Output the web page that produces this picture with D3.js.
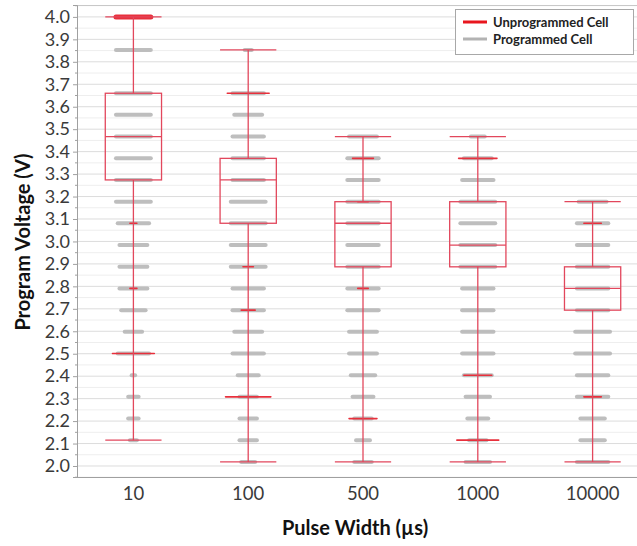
<!DOCTYPE html>
<html><head><meta charset="utf-8">
<script src="https://cdn.jsdelivr.net/npm/d3@7"></script>
<style>body{margin:0;background:#fff}svg{display:block}</style>
</head><body>
<svg id="c" width="637" height="546"></svg>
<script>
const categories = ["10","100","500","1000","10000"];
const levels = [2.018,2.115,2.211,2.308,2.404,2.501,2.598,2.694,2.791,2.887,2.984,3.081,3.177,3.274,3.370,3.467,3.564,3.660,3.757,3.853,4.000];
const whiskerLow  = [2.115,2.018,2.018,2.018,2.018];
const q1          = [3.274,3.081,2.887,2.887,2.694];
const median      = [3.467,3.274,3.081,2.984,2.791];
const q3          = [3.660,3.370,3.177,3.177,2.887];
const whiskerHigh = [4.000,3.853,3.467,3.467,3.177];
// relative spread (0-10) of jittered points at each level, per category
const grayDensity = [
  [0,2,3,3,1,9,5,7,8,8,8,9,10,10,10,10,10,10,0,10,0],
  [4,5,5,5,6,9,8,9,9,10,10,10,10,9,9,9,8,9,0,2,0],
  [5,4,5,6,7,8,8,9,9,9,9,9,9,9,9,8,0,0,0,0,0],
  [7,5,6,7,8,9,9,9,9,10,10,10,10,9,8,4,0,0,0,0,0],
  [9,7,7,9,9,10,10,9,9,9,9,9,8,0,0,0,0,0,0,0,0]
];
const redDensity = [
  [0,0,0,0,0,12,0,0,2,0,0,2,0,0,0,0,0,0,0,0,10],
  [0,0,0,13,0,0,0,4,0,3,0,0,0,0,0,0,0,12,0,0,0],
  [0,0,8,0,0,0,0,0,3,0,0,0,3,0,6,0,0,0,0,0,0],
  [0,12,0,0,8,0,0,0,0,0,0,0,0,0,11,0,0,0,0,0,0],
  [0,0,0,5,0,0,0,0,0,0,0,5,0,0,0,0,0,0,0,0,0]
];
const yTicks = d3.range(20,41).map(v=>v/10);
const legendItems = [{label:"Unprogrammed Cell", color:"#e8161e"},{label:"Programmed Cell", color:"#b3b3b3"}];

const svg = d3.select("#c");
const font = "Lato, 'Open Sans', sans-serif";
const L=77, R=637, T=5, B=477;
const x = d3.scaleBand().domain(categories).range([76,650]).padding(0);
const y = d3.scaleLinear().domain([1.951,4.053]).range([B,T]);
const boxW = x.bandwidth()*0.49;
const spread = d3.scaleLinear().domain([0,10]).range([0,boxW*0.31]);

// grid
const minor = d3.range(195,406,5).map(v=>v/100).filter(v=>Math.round(v*100)%10!==0);
svg.append("g").selectAll("line").data(minor).join("line")
  .attr("x1",L).attr("x2",R).attr("y1",d=>y(d)).attr("y2",d=>y(d))
  .attr("stroke","#eeeeee").attr("stroke-width",1);
svg.append("g").selectAll("line").data(yTicks).join("line")
  .attr("x1",L).attr("x2",R).attr("y1",d=>y(d)).attr("y2",d=>y(d))
  .attr("stroke","#dcdcdc").attr("stroke-width",1);
svg.append("line").attr("x1",L).attr("x2",R).attr("y1",T+0.5).attr("y2",T+0.5).attr("stroke","#c8c8c8");

// points (gray then red)
const ptsG=[], ptsR=[];
categories.forEach((c,i)=>levels.forEach((lv,j)=>{
  if(grayDensity[i][j]>0) ptsG.push({c,lv,d:grayDensity[i][j]});
  if(redDensity[i][j]>0) ptsR.push({c,lv,d:redDensity[i][j]});
}));
const cx = c=>x(c)+x.bandwidth()/2;
svg.append("g").selectAll("line").data(ptsG).join("line")
  .attr("x1",d=>cx(d.c)-spread(d.d)).attr("x2",d=>cx(d.c)+spread(d.d))
  .attr("y1",d=>y(d.lv)).attr("y2",d=>y(d.lv))
  .attr("stroke","#b8b8b8").attr("stroke-width",4).attr("stroke-linecap","round").attr("opacity",0.9);
svg.append("g").selectAll("line").data(ptsR).join("line")
  .attr("x1",d=>cx(d.c)-spread(d.d)).attr("x2",d=>cx(d.c)+spread(d.d))
  .attr("y1",d=>y(d.lv)).attr("y2",d=>y(d.lv))
  .attr("stroke","#e8303c").attr("stroke-width",d=>d.lv>=4?5:1.6).attr("stroke-linecap","round");

// boxes
const bc="#e2475c";
const g = svg.append("g").attr("fill","none").attr("stroke",bc).attr("stroke-width",1.3);
categories.forEach((c,i)=>{
  const m=cx(c);
  g.append("line").attr("x1",m).attr("x2",m).attr("y1",y(whiskerLow[i])).attr("y2",y(q1[i]));
  g.append("line").attr("x1",m).attr("x2",m).attr("y1",y(q3[i])).attr("y2",y(whiskerHigh[i]));
  [whiskerLow[i],whiskerHigh[i],median[i]].forEach(v=>
    g.append("line").attr("x1",m-boxW/2).attr("x2",m+boxW/2).attr("y1",y(v)).attr("y2",y(v)));
  g.append("rect").attr("x",m-boxW/2).attr("y",y(q3[i])).attr("width",boxW).attr("height",y(q1[i])-y(q3[i]));
});

// axes
const ya = svg.append("g").attr("transform",`translate(${L},0)`)
  .call(d3.axisLeft(y).tickValues(yTicks).tickFormat(d3.format(".1f")).tickSize(4).tickPadding(3));
ya.select(".domain").attr("stroke","#a0a0a0");
ya.selectAll(".tick line").attr("stroke","#a0a0a0");
ya.selectAll("text").attr("font-family",font).attr("font-size",18).attr("fill","#3a3a3a");
svg.append("g").selectAll("line").data(minor).join("line")
  .attr("x1",L-2).attr("x2",L).attr("y1",d=>y(d)).attr("y2",d=>y(d)).attr("stroke","#a0a0a0");
const xa = svg.append("g").attr("transform",`translate(0,${B})`)
  .call(d3.axisBottom(x).tickSize(0).tickPadding(10));
xa.select(".domain").attr("d",`M${L},0.5H${R}`).attr("stroke","#a0a0a0");
xa.selectAll("text").attr("font-family",font).attr("font-size",18.5).attr("fill","#3a3a3a");

// titles
svg.append("text").attr("x",355).attr("y",535).attr("text-anchor","middle")
  .attr("font-family",font).attr("font-weight","bold").attr("font-size",20).attr("fill","#111")
  .text("Pulse Width (µs)");
svg.append("text").attr("transform","translate(30,242) rotate(-90)").attr("text-anchor","middle")
  .attr("font-family",font).attr("font-weight","bold").attr("font-size",20).attr("fill","#111")
  .text("Program Voltage (V)");

// legend
const lg = svg.append("g");
lg.append("rect").attr("x",455.5).attr("y",9.5).attr("width",178).attr("height",45)
  .attr("fill","#fff").attr("stroke","#a8a8a8");
legendItems.forEach((d,i)=>{
  const yy=22+i*17;
  lg.append("line").attr("x1",463).attr("x2",487).attr("y1",yy).attr("y2",yy)
    .attr("stroke",d.color).attr("stroke-width",3);
  lg.append("text").attr("x",493).attr("y",yy+4.5).attr("font-family",font).attr("font-weight","bold")
    .attr("font-size",13).attr("fill","#222").text(d.label);
});
</script>
</body></html>
